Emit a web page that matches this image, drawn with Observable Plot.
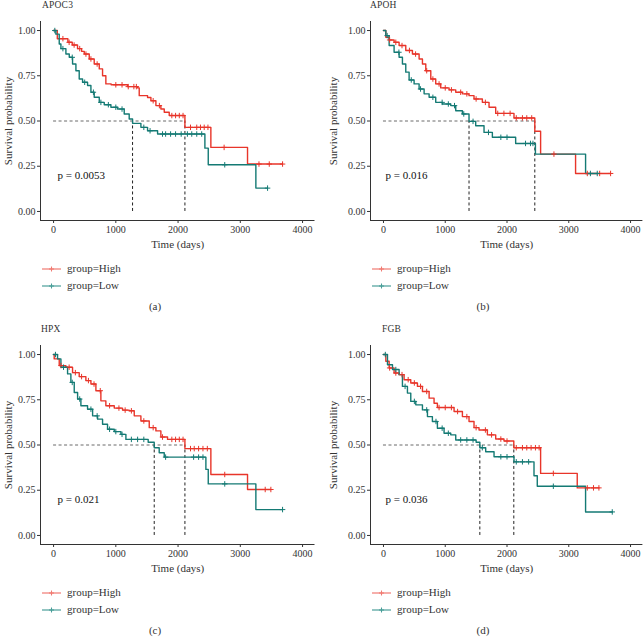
<!DOCTYPE html>
<html>
<head>
<meta charset="utf-8">
<script src="https://cdn.jsdelivr.net/npm/d3@7"></script>
<script src="https://cdn.jsdelivr.net/npm/@observablehq/plot@0.6"></script>
<style>
  html, body { margin: 0; padding: 0; background: #fff; }
  #root { position: relative; width: 644px; height: 637px; background: #fff; font-family: "Liberation Serif", "DejaVu Serif", serif; color: #222; overflow: hidden; }
  .panel { position: absolute; width: 322px; height: 320px; }
  .panel svg { position: absolute; left: 0; top: 0; }
  .title { position: absolute; font-size: 9.5px; line-height: 10px; letter-spacing: 0.2px; color: #333; }
  .leg { position: absolute; font-size: 11px; line-height: 14px; color: #333; white-space: nowrap; }
  .cap { position: absolute; font-size: 11px; line-height: 12px; color: #333; transform: translateX(-50%); }
</style>
</head>
<body>
<div id="root"></div>
<script>
// ---------- data ----------
const genes = ["APOC3", "APOH", "HPX", "FGB"];
const pvalues = ["p = 0.0053", "p = 0.016", "p = 0.021", "p = 0.036"];
const captions = ["(a)", "(b)", "(c)", "(d)"];
const groups = ["group=High", "group=Low"];
const xTicks = [0, 1000, 2000, 3000, 4000];
const yTicks = [0, 0.25, 0.5, 0.75, 1];

// [time (days), survival after the step]
const apoc3High = [[0,1],[60,0.955],[230,0.935],[300,0.92],[385,0.90],[450,0.885],[493,0.87],[573,0.843],[653,0.815],[734,0.788],[787,0.75],[840,0.705],[925,0.70],[1189,0.69],[1349,0.683],[1376,0.64],[1510,0.63],[1564,0.612],[1644,0.585],[1724,0.566],[1778,0.548],[1858,0.53],[2110,0.465],[2527,0.354],[3116,0.262],[3679,0.262]];
const apoc3Low = [[0,1],[37,0.98],[91,0.926],[118,0.90],[198,0.87],[252,0.852],[305,0.815],[359,0.778],[412,0.732],[466,0.714],[546,0.696],[600,0.659],[653,0.631],[734,0.603],[814,0.59],[921,0.576],[1028,0.566],[1135,0.539],[1215,0.511],[1269,0.487],[1403,0.465],[1510,0.446],[1671,0.428],[2431,0.35],[2485,0.258],[3250,0.129],[3438,0.129]];
const apoc3HighCens = [150,250,330,420,520,600,700,1000,1100,1200,1290,1330,1600,1700,1900,1960,2020,2080,2200,2300,2360,2420,2480,2740,3300,3465,3679];
const apoc3LowCens = [20,150,300,500,640,760,880,1000,1100,1450,1550,1750,1800,1880,1960,2050,2150,2220,2300,2380,2750,3438];
const apoc3Medians = [1269, 2110];

const apohHigh = [[0,1],[38,0.963],[92,0.948],[172,0.935],[253,0.917],[361,0.89],[469,0.87],[577,0.843],[631,0.815],[685,0.778],[766,0.732],[846,0.705],[927,0.683],[1062,0.672],[1170,0.659],[1278,0.65],[1385,0.64],[1466,0.622],[1601,0.603],[1709,0.576],[1817,0.542],[2113,0.517],[2450,0.443],[2544,0.317],[3110,0.21],[3677,0.21]];
const apohLow = [[0,1],[38,0.972],[92,0.917],[172,0.88],[253,0.852],[307,0.815],[361,0.77],[415,0.727],[496,0.705],[577,0.677],[658,0.65],[739,0.631],[846,0.603],[954,0.594],[1089,0.585],[1170,0.557],[1278,0.539],[1385,0.498],[1493,0.474],[1628,0.437],[1763,0.41],[2140,0.376],[2460,0.317],[3272,0.21],[3461,0.21]];
const apohHighCens = [100,200,300,420,520,700,800,900,1000,1100,1250,1350,1500,1650,1850,1950,2050,2150,2250,2320,2400,2760,3300,3500,3677];
const apohLowCens = [60,250,450,600,800,950,1050,1150,1300,1450,1700,1900,2000,2300,2380,2420,3350,3461];
const apohMedians = [1385, 2450];

const hpxHigh = [[0,1],[10,0.976],[91,0.939],[198,0.93],[305,0.9],[412,0.878],[519,0.856],[600,0.837],[680,0.8],[760,0.744],[840,0.717],[975,0.704],[1108,0.693],[1215,0.689],[1296,0.661],[1403,0.633],[1537,0.596],[1644,0.578],[1724,0.544],[1831,0.531],[2110,0.48],[2527,0.337],[3116,0.254],[3491,0.254]];
const hpxLow = [[0,1],[64,0.976],[118,0.93],[225,0.893],[278,0.846],[332,0.79],[386,0.754],[439,0.717],[546,0.698],[627,0.661],[707,0.643],[787,0.615],[867,0.587],[975,0.574],[1082,0.559],[1162,0.531],[1520,0.515],[1617,0.485],[1697,0.457],[1778,0.433],[2447,0.365],[2485,0.285],[3250,0.143],[3679,0.143]];
const hpxHighCens = [120,250,350,450,560,650,750,900,1050,1150,1250,1450,1600,1750,1900,1960,2020,2080,2200,2260,2330,2400,2470,2750,3400,3491];
const hpxLowCens = [30,160,300,420,600,700,900,1000,1100,1250,1350,1450,1800,2250,2330,2400,2750,3679];
const hpxMedians = [1617, 2110];

const fgbHigh = [[0,1],[38,0.963],[92,0.926],[172,0.898],[253,0.889],[334,0.861],[442,0.843],[550,0.824],[631,0.796],[739,0.759],[819,0.731],[873,0.707],[1143,0.685],[1278,0.657],[1385,0.63],[1466,0.596],[1547,0.583],[1682,0.556],[1817,0.533],[1951,0.522],[2110,0.485],[2544,0.343],[3137,0.263],[3488,0.263]];
const fgbLow = [[0,1],[65,0.944],[146,0.917],[253,0.889],[307,0.824],[388,0.787],[442,0.741],[523,0.722],[631,0.694],[712,0.657],[792,0.63],[873,0.593],[981,0.565],[1089,0.556],[1170,0.528],[1500,0.515],[1560,0.485],[1655,0.463],[1790,0.435],[2113,0.407],[2437,0.33],[2490,0.272],[3272,0.13],[3704,0.13]];
const fgbHighCens = [100,200,300,400,500,600,700,900,1000,1100,1200,1350,1500,1650,1750,1900,2000,2150,2250,2320,2390,2460,2520,2750,3300,3400,3488];
const fgbLowCens = [30,200,350,500,700,850,950,1050,1250,1350,1450,1600,1900,2000,2150,2250,2350,2750,3704];
const fgbMedians = [1560, 2110];

const colors = ["#E8352A", "#147A74"];
const legendColors = ["#F07A72", "#4A9E99"];

// ---------- layout ----------
const panels = [
  {high: apoc3High, low: apoc3Low, hc: apoc3HighCens, lc: apoc3LowCens, med: apoc3Medians, ox: 0,   oy: 0,   ml: 40, mr: 7.5, px: 64, tx: 42, cx: 155, lo: 36},
  {high: apohHigh,  low: apohLow,  hc: apohHighCens,  lc: apohLowCens,  med: apohMedians,  ox: 322, oy: 0,   ml: 48, mr: 1.6, px: 32, tx: 48, cx: 161, lo: 41},
  {high: hpxHigh,   low: hpxLow,   hc: hpxHighCens,   lc: hpxLowCens,   med: hpxMedians,   ox: 0,   oy: 324, ml: 40, mr: 7.5, px: 64, tx: 41, cx: 155, lo: 36},
  {high: fgbHigh,   low: fgbLow,   hc: fgbHighCens,   lc: fgbLowCens,   med: fgbMedians,   ox: 322, oy: 324, ml: 48, mr: 1.6, px: 32, tx: 60, cx: 161, lo: 41}
];

function stepAt(curve, t) {
  let s = curve[0][1];
  for (const [ct, cs] of curve) { if (ct <= t) s = cs; else break; }
  return s;
}

const root = document.getElementById("root");

panels.forEach((p, i) => {
  const div = document.createElement("div");
  div.className = "panel";
  div.style.left = p.ox + "px";
  div.style.top = p.oy + "px";
  root.appendChild(div);

  const lines = [
    ...p.high.map(([t, s]) => ({t, s, g: groups[0]})),
    ...p.low.map(([t, s]) => ({t, s, g: groups[1]}))
  ];
  const cens = [
    ...p.hc.map(t => ({t, s: stepAt(p.high, t), g: groups[0]})),
    ...p.lc.map(t => ({t, s: stepAt(p.low, t), g: groups[1]}))
  ];
  const maxMed = d3.max(p.med);

  const chart = Plot.plot({
    width: 322,
    height: 250,
    marginLeft: p.ml,
    marginRight: p.mr,
    marginTop: 21,
    marginBottom: 30,
    style: {fontFamily: "Liberation Serif, serif", fontSize: "10px", color: "#333", background: "transparent"},
    x: {domain: [-210, 4200], ticks: xTicks, tickFormat: d3.format("d"), label: "Time (days)", labelAnchor: "center", labelArrow: "none", labelOffset: 27, tickSize: 3, tickPadding: 2},
    y: {domain: [-0.05, 1.05], ticks: yTicks, tickFormat: d3.format(".2f"), label: "Survival probability", labelAnchor: "center", labelArrow: "none", labelOffset: p.lo, tickSize: 3, tickPadding: 2},
    color: {domain: groups, range: colors},
    marks: [
      Plot.ruleY([0.5], {x1: 0, x2: maxMed, stroke: "#444", strokeWidth: 0.8, strokeDasharray: "3,2.5"}),
      Plot.ruleX(p.med, {y1: 0, y2: 0.5, stroke: "#222", strokeWidth: 1, strokeDasharray: "3,2.5"}),
      Plot.line(lines, {x: "t", y: "s", z: "g", stroke: "g", curve: "step-after", strokeWidth: 1.4}),
      Plot.dot(cens, {x: "t", y: "s", stroke: "g", symbol: "plus", r: 1.9, strokeWidth: 1}),
      Plot.text([pvalues[i]], {x: p.px, y: 0.2, text: d => d, textAnchor: "start", fontSize: 11, fill: "#111"}),
      Plot.ruleX([-210], {stroke: "#333", strokeWidth: 1}),
      Plot.ruleY([-0.05], {stroke: "#333", strokeWidth: 1})
    ]
  });
  chart.querySelectorAll('g[aria-label="x-axis label"], g[aria-label="y-axis label"]').forEach(g => g.setAttribute("font-size", "11px"));
  div.appendChild(chart);

  const title = document.createElement("div");
  title.className = "title";
  title.style.left = p.tx + "px";
  title.style.top = "0px";
  title.textContent = genes[i];
  div.appendChild(title);

  groups.forEach((g, k) => {
    const leg = document.createElement("div");
    leg.className = "leg";
    leg.style.left = (p.ml + 1) + "px";
    leg.style.top = (261 + k * 16.5) + "px";
    const c = legendColors[k];
    leg.innerHTML = `<svg width="22" height="12" style="position:relative;display:inline-block;vertical-align:middle;margin-right:4px"><line x1="1" y1="6" x2="20" y2="6" stroke="${c}" stroke-width="1.2"/><line x1="10.5" y1="3.5" x2="10.5" y2="8.5" stroke="${c}" stroke-width="1.1"/><line x1="8" y1="6" x2="13" y2="6" stroke="${c}" stroke-width="1.1"/></svg>${g}`;
    div.appendChild(leg);
  });

  const cap = document.createElement("div");
  cap.className = "cap";
  cap.style.left = p.cx + "px";
  cap.style.top = "300px";
  cap.textContent = captions[i];
  div.appendChild(cap);
});
</script>
</body>
</html>
